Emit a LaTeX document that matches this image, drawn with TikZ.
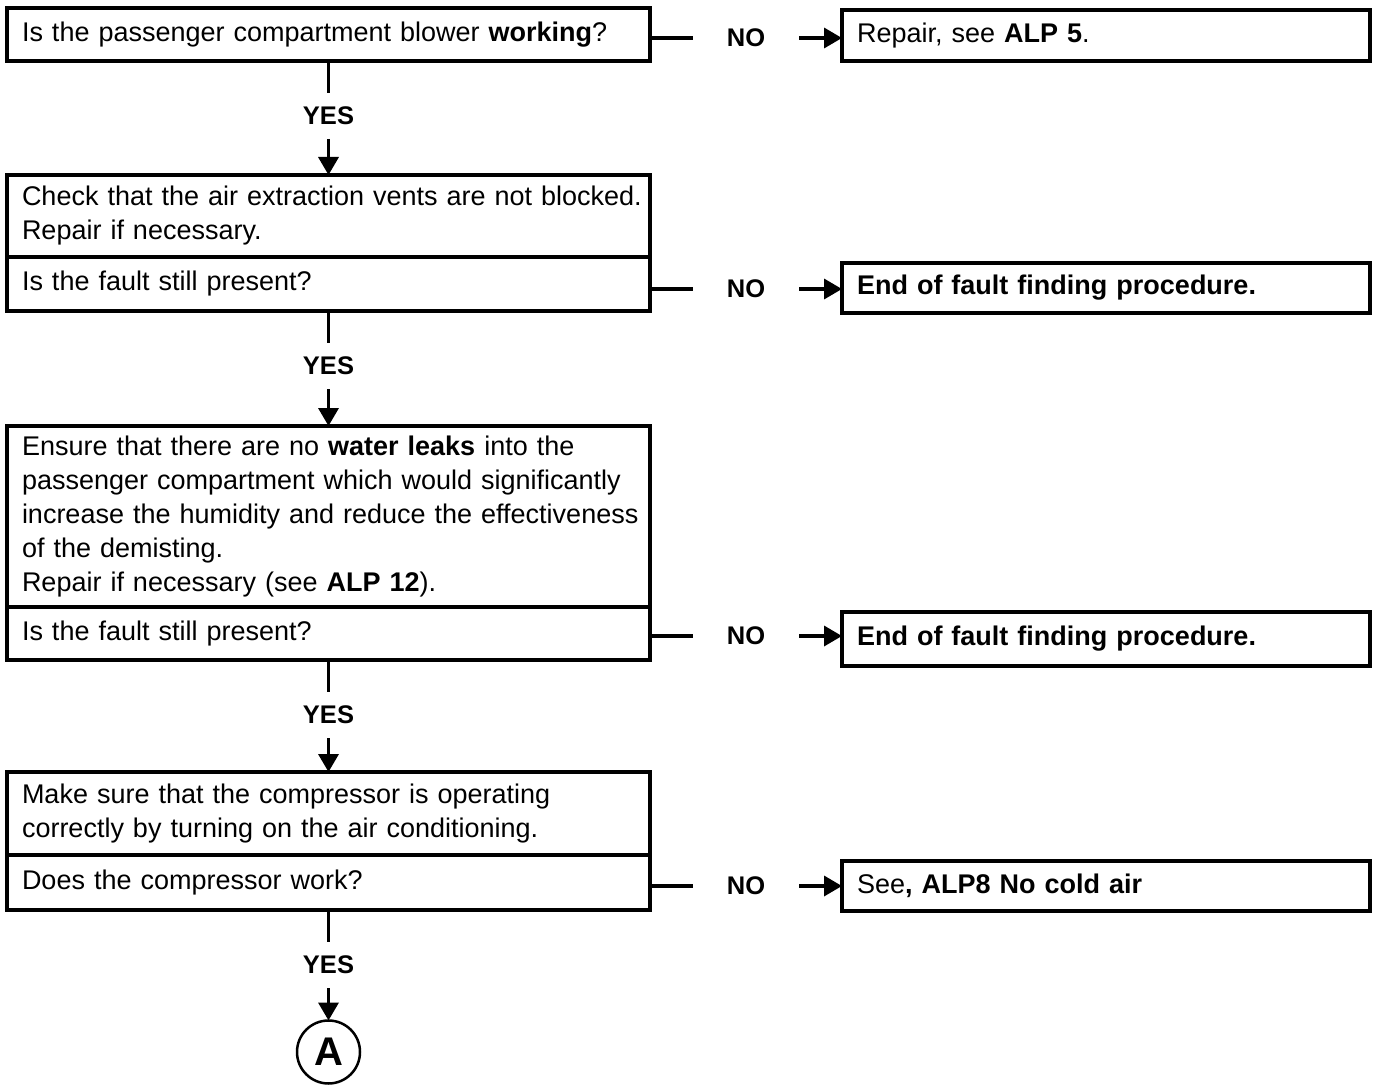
\documentclass[tikz,border=0pt]{standalone}
\usepackage{fontspec}
\setmainfont{Liberation Sans}
\usetikzlibrary{arrows.meta}
\begin{document}
\begin{tikzpicture}[x=1pt,y=-1pt,
  every node/.style={inner sep=0pt, outer sep=0pt},
  boxtext/.style={font=\fontsize{27}{34}\selectfont},
  frame/.style={draw, line width=3.5pt, anchor=north west, align=left,
    inner xsep=15pt, inner ysep=0pt, boxtext},
  lbox/.style={frame, minimum width=643pt, text width=613pt},
  rbox/.style={frame, minimum width=528pt, text width=498pt},
  yeslbl/.style={font=\fontsize{25.5}{30}\selectfont\bfseries, minimum height=46pt},
  nolbl/.style={font=\fontsize{25.5}{30}\selectfont\bfseries, minimum width=106pt},
  conn/.style={line width=3.5pt},
  arr/.style={conn, -{Triangle[length=18pt,width=20pt]}},
]
\useasboundingbox (0,0) rectangle (1373,1091);

% question boxes (left column)
\node[lbox, minimum height=53pt] (q1) at (7,8)
  {Is the passenger compartment blower \textbf{working}?};

\node[lbox, minimum height=82pt] (c2) at (7,175)
  {\mbox{Check that the air extraction vents are not blocked.}\\
   Repair if necessary.};
\node[lbox, minimum height=54pt] (q2) at (7,257)
  {Is the fault still present?};

\node[lbox, minimum height=181pt] (c3) at (7,426)
  {Ensure that there are no \textbf{water leaks} into the\\
   passenger compartment which would significantly\\
   \mbox{increase the humidity and reduce the effectiveness}\\
   of the demisting.\\
   Repair if necessary (see \textbf{ALP 12}).};
\node[lbox, minimum height=53pt] (q3) at (7,607)
  {Is the fault still present?};

\node[lbox, minimum height=83pt] (c4) at (7,772)
  {Make sure that the compressor is operating\\
   correctly by turning on the air conditioning.};
\node[lbox, minimum height=55pt] (q4) at (7,855)
  {Does the compressor work?};

% outcome boxes (right column)
\node[rbox, minimum height=51pt] (r1) at (842,10)
  {Repair, see \textbf{ALP 5}.};
\node[rbox, minimum height=50pt] (r2) at (842,263)
  {\textbf{End of fault finding procedure.}};
\node[rbox, minimum height=54pt] (r3) at (842,612)
  {\textbf{End of fault finding procedure.}};
\node[rbox, minimum height=50pt] (r4) at (842,861)
  {See\textbf{, ALP8 No cold air}};

% connector A
\node[draw, circle, line width=2.5pt, minimum size=63pt,
  font=\fontsize{40}{40}\selectfont\bfseries] (a) at (328.5,1052) {A};

% YES branches
\node[yeslbl] (y1) at (328.5,116) {YES};
\node[yeslbl] (y2) at (328.5,366) {YES};
\node[yeslbl] (y3) at (328.5,715) {YES};
\node[yeslbl] (y4) at (328.5,965) {YES};

\draw[conn] (q1.south) -- (y1.north);
\draw[arr]  (y1.south) -- (c2.north);
\draw[conn] (q2.south) -- (y2.north);
\draw[arr]  (y2.south) -- (c3.north);
\draw[conn] (q3.south) -- (y3.north);
\draw[arr]  (y3.south) -- (c4.north);
\draw[conn] (q4.south) -- (y4.north);
\draw[arr]  (y4.south) -- (a.north);

% NO branches
\node[nolbl] (n1) at (746,38) {NO};
\node[nolbl] (n2) at (746,289) {NO};
\node[nolbl] (n3) at (746,636) {NO};
\node[nolbl] (n4) at (746,886) {NO};

\draw[conn] (n1.west -| q1.east) -- (n1.west);
\draw[arr]  (n1.east) -- (n1.east -| r1.west);
\draw[conn] (n2.west -| q2.east) -- (n2.west);
\draw[arr]  (n2.east) -- (n2.east -| r2.west);
\draw[conn] (n3.west -| q3.east) -- (n3.west);
\draw[arr]  (n3.east) -- (n3.east -| r3.west);
\draw[conn] (n4.west -| q4.east) -- (n4.west);
\draw[arr]  (n4.east) -- (n4.east -| r4.west);
\end{tikzpicture}
\end{document}
